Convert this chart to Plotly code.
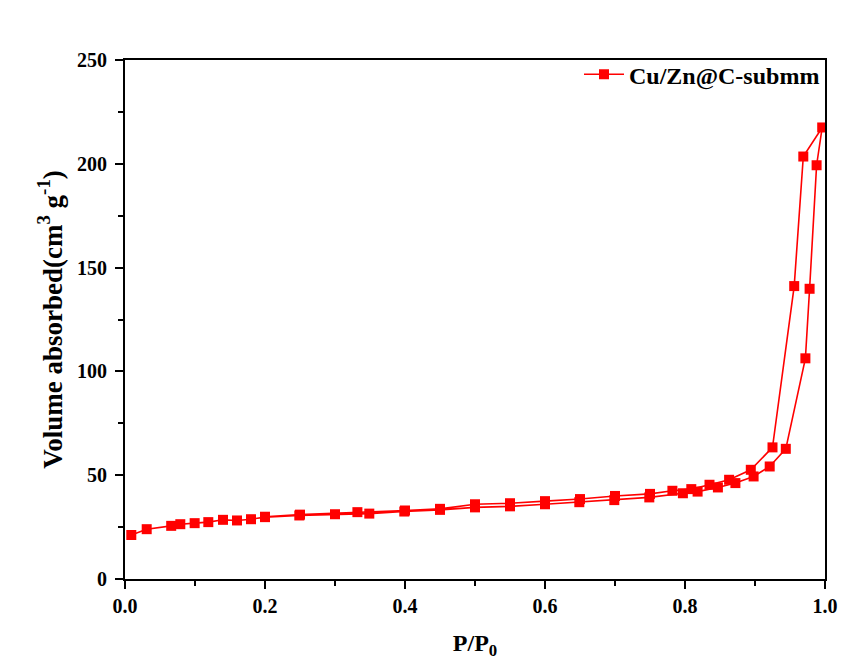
import plotly.graph_objects as go

# Adsorption branch (P/P0, volume)
ads_x = [0.009, 0.031, 0.066, 0.079, 0.0995, 0.119, 0.14, 0.16, 0.18, 0.20, 0.249, 0.30, 0.349, 0.399,
         0.45, 0.50, 0.55, 0.60, 0.649, 0.699, 0.749, 0.797, 0.818, 0.847, 0.872, 0.898, 0.921, 0.944,
         0.972, 0.978, 0.988, 0.996]
ads_y = [21.2, 24.0, 25.6, 26.4, 26.9, 27.4, 28.5, 28.2, 28.8, 29.8, 30.6, 31.2, 31.5, 32.5,
         33.3, 34.5, 35.0, 36.0, 37.0, 38.0, 39.3, 41.3, 42.1, 44.1, 46.2, 49.4, 54.2, 62.7,
         106.3, 139.8, 199.3, 217.5]
# Desorption branch
des_x = [0.969, 0.956, 0.925, 0.894, 0.863, 0.835, 0.809, 0.782, 0.75, 0.70, 0.65, 0.60, 0.55,
         0.50, 0.45, 0.40, 0.332, 0.25, 0.20]
des_y = [203.5, 141.1, 63.4, 52.6, 47.8, 45.4, 43.3, 42.5, 41.0, 40.0, 38.5, 37.5, 36.5,
         36.0, 33.8, 33.0, 32.2, 31.0, 30.0]

x_vals = ads_x + des_x
y_vals = ads_y + des_y

FONT = "Liberation Serif"
RED = "#FF0000"

fig = go.Figure()
fig.add_trace(go.Scatter(
    x=x_vals, y=y_vals, mode="lines+markers", name="Cu/Zn@C-submm",
    line=dict(color=RED, width=1.6),
    marker=dict(symbol="square", size=10, color=RED),
))

axis_common = dict(
    showline=True, linecolor="black", linewidth=2, mirror=True,
    ticks="outside", tickcolor="black", tickwidth=2, ticklen=8,
    showgrid=False, zeroline=False,
    tickfont=dict(family=FONT, size=20, color="black", weight="bold"),
)

fig.update_xaxes(
    range=[0, 1], tickvals=[0, 0.2, 0.4, 0.6, 0.8, 1.0],
    ticktext=["0.0", "0.2", "0.4", "0.6", "0.8", "1.0"],
    minor=dict(tickvals=[0.1, 0.3, 0.5, 0.7, 0.9], ticks="outside", ticklen=5, tickwidth=2, tickcolor="black"),
    title=dict(text="P/P<sub>0</sub>", font=dict(family=FONT, size=24, color="black", weight="bold"), standoff=18),
    **axis_common,
)
fig.update_yaxes(
    range=[0, 250], tickvals=[0, 50, 100, 150, 200, 250],
    minor=dict(tickvals=[25, 75, 125, 175, 225], ticks="outside", ticklen=5, tickwidth=2, tickcolor="black"),
    ticklabelstandoff=4,
    title=dict(text="Volume absorbed(cm<sup>3</sup> g<sup>-1</sup>)",
               font=dict(family=FONT, size=27, color="black", weight="bold"), standoff=7),
    **axis_common,
)

fig.update_layout(
    width=858, height=668,
    margin=dict(l=125, r=33, t=60, b=89),
    paper_bgcolor="white", plot_bgcolor="white",
    showlegend=True,
    legend=dict(x=1.0, y=1.015, xanchor="right", yanchor="top",
                font=dict(family=FONT, size=24, color="black", weight="bold"),
                bgcolor="rgba(0,0,0,0)", borderwidth=0, itemwidth=40),
)

fig.write_html("out.html")
